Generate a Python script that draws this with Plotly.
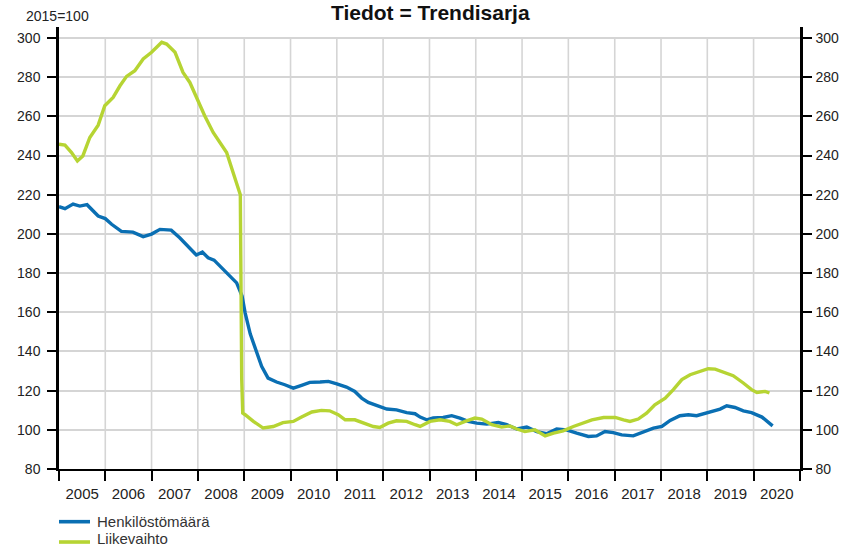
import plotly.graph_objects as go

# Henkilöstömäärä (blue), trend series, 2015=100
henk_dates = [
    "2005-01-01", "2005-02-17", "2005-04-22", "2005-06-14", "2005-08-10", "2005-09-12", "2005-11-06",
    "2006-01-01", "2006-02-20", "2006-05-08", "2006-08-07", "2006-10-27",
    "2007-01-01", "2007-03-08", "2007-06-05", "2007-08-11", "2007-10-05", "2007-12-20",
    "2008-02-06", "2008-03-22", "2008-05-08", "2008-08-15", "2008-11-02", "2008-12-15",
    "2009-01-08", "2009-02-17", "2009-03-25", "2009-05-18", "2009-07-08", "2009-09-13", "2009-11-17",
    "2010-01-23", "2010-03-29", "2010-06-02", "2010-08-22", "2010-10-27",
    "2011-01-01", "2011-03-18", "2011-05-23", "2011-07-16", "2011-09-06", "2011-11-10",
    "2012-01-30", "2012-04-16", "2012-07-05", "2012-09-09", "2012-10-19", "2012-12-10",
    "2013-01-30", "2013-04-19", "2013-06-25", "2013-08-29", "2013-11-02",
    "2014-01-08", "2014-03-28", "2014-06-28", "2014-09-02", "2014-11-21",
    "2015-02-07", "2015-04-27", "2015-07-13", "2015-10-01", "2015-12-17",
    "2016-03-07", "2016-06-07", "2016-08-11", "2016-10-16", "2016-12-20",
    "2017-02-25", "2017-05-27", "2017-08-15", "2017-11-02",
    "2018-01-08", "2018-03-14", "2018-05-30", "2018-08-04", "2018-10-09", "2018-12-13",
    "2019-02-17", "2019-04-12", "2019-06-03", "2019-08-07", "2019-10-12", "2019-12-16",
    "2020-03-07", "2020-05-30",
]
henk_values = [
    213.9, 212.9, 215.2, 214.2, 214.9, 212.5, 209.1,
    207.8, 204.9, 201.3, 200.9, 198.6,
    199.9, 202.3, 201.9, 198.0, 194.1, 189.2,
    190.7, 187.8, 186.6, 180.3, 175.0, 168.2,
    159.7, 149.0, 142.6, 132.4, 126.4, 124.4, 123.0,
    121.3, 122.7, 124.2, 124.4, 124.7,
    123.5, 121.8, 119.6, 116.2, 114.0, 112.3,
    110.6, 110.2, 108.8, 108.2, 106.5, 105.1,
    106.0, 106.3, 107.2, 106.0, 104.3,
    103.4, 102.9, 103.7, 102.6, 100.4,
    101.4, 99.1, 98.0, 100.4, 100.0,
    98.3, 96.6, 96.9, 99.1, 98.6,
    97.4, 96.9, 99.1, 100.9,
    101.7, 104.8, 107.2, 107.7, 107.2, 108.5,
    109.4, 110.6, 112.3, 111.4, 109.7, 108.8,
    106.5, 102.0,
]

# Liikevaihto (green), trend series, 2015=100
liike_dates = [
    "2005-01-01", "2005-02-17", "2005-04-10", "2005-05-26", "2005-07-08", "2005-09-01", "2005-11-06", "2005-12-28",
    "2006-03-04", "2006-04-27", "2006-06-18", "2006-08-22", "2006-10-27",
    "2007-01-01", "2007-03-22", "2007-04-30", "2007-07-05", "2007-09-06", "2007-10-30", "2007-12-20",
    "2008-02-24", "2008-05-01", "2008-06-24", "2008-08-15", "2008-10-05", "2008-12-01", "2008-12-12", "2008-12-20",
    "2009-01-08", "2009-03-14", "2009-05-30", "2009-08-18", "2009-11-02",
    "2010-01-23", "2010-03-29", "2010-06-18", "2010-09-02", "2010-11-06",
    "2011-01-12", "2011-03-08", "2011-05-23", "2011-07-27", "2011-10-16", "2011-12-06",
    "2012-02-10", "2012-04-16", "2012-07-05", "2012-09-09", "2012-10-19",
    "2013-01-05", "2013-03-25", "2013-06-10", "2013-08-04", "2013-10-09", "2013-12-25",
    "2014-02-17", "2014-05-08", "2014-07-24", "2014-09-27", "2014-11-21",
    "2015-01-23", "2015-04-12", "2015-07-02", "2015-09-06", "2015-11-21",
    "2016-02-10", "2016-04-27", "2016-07-05", "2016-10-05",
    "2017-01-05", "2017-03-11", "2017-05-01", "2017-07-05", "2017-09-09", "2017-11-13",
    "2018-02-03", "2018-04-08", "2018-06-14", "2018-08-18", "2018-11-02",
    "2019-01-08", "2019-03-04", "2019-05-08", "2019-07-24", "2019-10-12", "2019-12-16",
    "2020-01-27", "2020-04-01", "2020-05-05",
]
liike_values = [
    245.8, 245.3, 241.5, 237.2, 239.8, 249.2, 255.5, 265.4,
    269.7, 275.6, 280.4, 283.3, 289.3,
    292.7, 297.8, 296.9, 292.7, 282.4, 277.3, 269.7,
    260.3, 251.8, 246.6, 241.5, 231.3, 220.0, 126.0, 108.5,
    107.7, 104.3, 100.9, 101.7, 103.7,
    104.3, 106.5, 109.1, 109.9, 109.7,
    107.7, 105.1, 105.1, 103.7, 101.7, 101.2,
    103.4, 104.6, 104.3, 102.6, 101.7,
    104.3, 105.1, 104.3, 102.6, 104.3, 106.0,
    105.5, 102.6, 101.4, 102.0, 100.4,
    99.1, 100.0, 96.9, 98.3, 99.5,
    101.7, 103.4, 105.1, 106.3,
    106.3, 105.1, 104.3, 105.5, 108.5, 112.8,
    116.2, 120.5, 125.6, 128.1, 129.8,
    131.2, 131.0, 129.3, 127.6, 123.9, 120.5,
    119.1, 119.6, 118.8,
]

series_names = ["Henkilöstömäärä", "Liikevaihto"]
y_ticks = [80, 100, 120, 140, 160, 180, 200, 220, 240, 260, 280, 300]
grid_years = list(range(2006, 2021))

BLUE = "#0a6fb3"
GREEN = "#b6d433"
FONT = "Liberation Sans, Arial, sans-serif"
GRID = "#d5d5d5"
colors = [BLUE, GREEN]

fig = go.Figure()
fig.add_trace(go.Scatter(x=henk_dates, y=henk_values, mode="lines", name=series_names[0],
                         line=dict(color=BLUE, width=3.4), showlegend=False))
fig.add_trace(go.Scatter(x=liike_dates, y=liike_values, mode="lines", name=series_names[1],
                         line=dict(color=GREEN, width=3.4), showlegend=False))
# anchor trace for right axis
fig.add_trace(go.Scatter(x=[], y=[], yaxis="y2", showlegend=False, hoverinfo="skip"))

for yr in grid_years:
    fig.add_shape(type="line", xref="x", yref="y", x0=f"{yr}-01-01", x1=f"{yr}-01-01",
                  y0=y_ticks[0], y1=y_ticks[-1], line=dict(color=GRID, width=1.6), layer="below")

# legend drawn below the plot (line sample + label)
legend_line_y = [-0.1192, -0.1652]
legend_text = [dict(y=-0.1192, yanchor="middle"), dict(y=-0.1787, yanchor="bottom")]
annotations = [
    dict(text="<b>Tiedot = Trendisarja</b>", xref="paper", yref="paper", x=0.502, y=1.0317,
         xanchor="center", yanchor="middle", showarrow=False, font=dict(size=21, color="#111")),
    dict(text="2015=100", xref="paper", yref="paper", x=-0.047, y=1.0238,
         xanchor="left", yanchor="middle", showarrow=False, font=dict(size=14, color="#222")),
]
for name, col, ly, tpos in zip(series_names, colors, legend_line_y, legend_text):
    fig.add_shape(type="line", xref="paper", yref="paper", x0=0.0, x1=0.0418, y0=ly, y1=ly,
                  line=dict(color=col, width=3.6))
    annotations.append(dict(text=name, xref="paper", yref="paper", x=0.050, y=tpos["y"],
                            xanchor="left", yanchor=tpos["yanchor"], showarrow=False, borderpad=0,
                            font=dict(size=15, color="#333")))

fig.update_layout(
    width=854, height=548,
    margin=dict(l=59, r=54, t=27, b=79, autoexpand=False),
    paper_bgcolor="white", plot_bgcolor="white",
    font=dict(family=FONT, size=14, color="#222"),
    showlegend=False,
    xaxis=dict(type="date", range=["2005-01-01", "2021-01-01"], dtick="M12", tick0="2005-01-01",
               tickformat="%Y", ticklabelmode="period", ticks="outside", ticklen=10, tickwidth=2,
               tickcolor="black", showline=True, linecolor="black", linewidth=2, showgrid=False,
               zeroline=False, tickfont=dict(size=15, color="#222")),
    yaxis=dict(range=[80, 305.6], tickvals=y_ticks, ticks="outside", ticklen=9, tickwidth=2,
               tickcolor="black", showline=True, linecolor="black", linewidth=2.5, showgrid=True,
               gridcolor=GRID, gridwidth=1.6, zeroline=False, ticklabelstandoff=4,
               tickfont=dict(size=14, color="#222")),
    yaxis2=dict(range=[80, 305.6], tickvals=y_ticks, overlaying="y", side="right", ticks="outside",
                ticklen=9, tickwidth=2, tickcolor="black", showline=True, linecolor="black",
                linewidth=2.5, showgrid=False, zeroline=False, ticklabelstandoff=1,
                tickfont=dict(size=14, color="#222")),
    annotations=annotations,
)

# remove the page's default 8px body margin so the figure fills the 854x548 window
fig.write_html("out.html", config={"displayModeBar": False},
               post_script="document.body.style.margin='0px';")
